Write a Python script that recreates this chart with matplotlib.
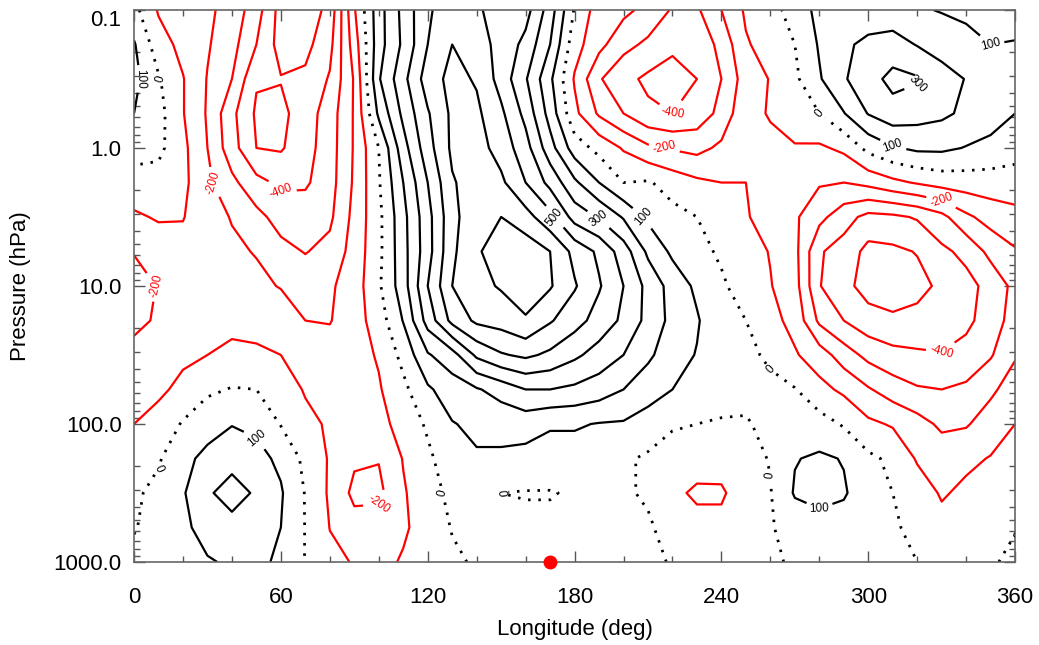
import numpy as np
import matplotlib.pyplot as plt

plt.rcParams['font.family'] = ['Liberation Sans', 'DejaVu Sans']

# longitude grid (deg) and pressure levels (hPa)
lons = [0, 10, 20, 30, 40, 50, 60, 70, 80, 90, 100, 110, 120, 130, 140, 150, 160, 170, 180,
        190, 200, 210, 220, 230, 240, 250, 260, 270, 280, 290, 300, 310, 320, 330, 340, 350, 360]
pres = [0.1, 0.178, 0.316, 0.562, 1.0, 1.78, 3.16, 5.62, 10.0, 17.8, 31.6, 56.2,
        100.0, 178.0, 316.0, 562.0, 1000.0]

# height anomaly (m), one list per pressure level
z_p0001 = [30, -110, -140, -180, -240, -355, -540, -560, -470, -110, 160, 330, 490, 540, 510, 470, 440, 250, -10, -150, -175, -230, -310, -315, -200, -85, -35, 40, 130, 150, 150, 140, 110, 95, 80, 60, 30]
z_p0002 = [110, -55, -130, -190, -265, -400, -540, -530, -430, -150, 160, 320, 500, 600, 540, 470, 370, 200, -60, -170, -270, -320, -380, -370, -270, -110, -60, 0, 110, 185, 220, 240, 195, 150, 130, 100, 110]
z_p0003 = [130, 10, -95, -205, -300, -490, -495, -480, -390, -190, 190, 370, 550, 630, 590, 460, 310, 120, -110, -290, -370, -420, -440, -400, -300, -150, -95, -20, 90, 190, 260, 330, 310, 250, 195, 170, 130]
z_p0006 = [100, 35, -95, -210, -375, -515, -525, -450, -350, -190, 120, 325, 490, 620, 620, 520, 370, 160, -75, -215, -300, -380, -400, -360, -270, -120, -95, -35, 0, 95, 205, 260, 240, 220, 180, 150, 100]
z_p001 = [40, 25, -75, -200, -360, -500, -510, -440, -345, -190, 0, 260, 460, 620, 640, 560, 440, 240, 50, -30, -110, -180, -210, -230, -180, -105, -115, -110, -115, -80, 30, 90, 120, 120, 95, 70, 40]
z_p002 = [-40, -40, -75, -180, -275, -370, -420, -415, -340, -185, -10, 200, 400, 590, 650, 620, 500, 370, 220, 100, 0, 10, -40, -80, -100, -100, -110, -150, -190, -200, -170, -125, -90, -60, -50, -45, -45]
z_p003 = [-115, -90, -95, -165, -205, -270, -340, -345, -320, -170, -25, 170, 365, 570, 670, 700, 640, 530, 360, 290, 190, 80, 30, 0, -70, -95, -125, -185, -270, -360, -430, -420, -390, -330, -220, -160, -130]
z_p006 = [-195, -155, -135, -160, -185, -205, -270, -305, -270, -160, -25, 165, 360, 580, 690, 740, 760, 700, 570, 480, 350, 180, 80, 20, -10, -60, -105, -170, -390, -440, -530, -520, -495, -420, -375, -270, -210]
z_p010 = [-240, -195, -165, -165, -170, -180, -205, -240, -215, -150, -15, 155, 400, 600, 670, 710, 750, 710, 610, 510, 400, 270, 160, 80, 10, -30, -95, -160, -395, -470, -540, -560, -530, -480, -430, -370, -270]
z_p018 = [-220, -190, -160, -150, -135, -130, -150, -200, -205, -145, -50, 105, 340, 530, 620, 640, 690, 610, 540, 460, 380, 270, 170, 110, 25, 0, -70, -130, -320, -400, -460, -480, -470, -450, -420, -360, -250]
z_p032 = [-175, -160, -115, -100, -70, -85, -100, -140, -160, -140, -90, 30, 190, 260, 420, 490, 520, 480, 420, 360, 300, 220, 140, 95, 70, 20, -15, -90, -150, -250, -330, -370, -385, -395, -370, -310, -210]
z_p056 = [-140, -115, -80, -15, 5, 0, -40, -110, -130, -135, -110, -25, 85, 150, 190, 240, 300, 300, 280, 250, 200, 140, 100, 50, 45, 15, 20, 5, -70, -120, -190, -250, -290, -300, -280, -220, -150]
z_p100 = [-100, -70, 10, 55, 95, 80, -5, -70, -115, -140, -130, -65, 15, 95, 120, 130, 140, 110, 110, 95, 90, 60, 10, 0, -10, -5, 15, 50, 40, -10, -80, -110, -160, -220, -210, -150, -100]
z_p178 = [-60, -10, 70, 130, 175, 130, 80, -25, -110, -185, -195, -95, -20, 60, 90, 85, 70, 60, 60, 55, 15, -15, -40, -60, -70, -30, 5, 95, 115, 95, 20, -20, -110, -140, -120, -95, -60]
z_p316 = [-15, 25, 90, 190, 230, 190, 110, -5, -115, -225, -225, -110, -40, 25, 30, 0, -5, -5, 10, 30, 10, -10, -80, -115, -110, -60, -5, 110, 125, 110, 45, 0, -50, -110, -80, -60, -30]
z_p562 = [-5, 30, 75, 145, 175, 150, 100, -3, -102, -160, -150, -115, -55, 5, 20, 20, 20, 20, 25, 25, 15, 10, -30, -70, -80, -40, -8, 40, 70, 60, 40, 10, -20, -70, -50, -30, -5]
z_p1000 = [20, 30, 55, 90, 115, 120, 85, -3, -80, -105, -130, -90, -60, -15, 10, 20, 25, 30, 30, 25, 20, 15, -5, -40, -50, -30, -12, 10, 40, 40, 30, 15, 0, -40, -30, -10, 20]

marker_lon = 170
marker_p = 1000.0

z = np.array([z_p0001, z_p0002, z_p0003, z_p0006, z_p001, z_p002, z_p003, z_p006, z_p010,
              z_p018, z_p032, z_p056, z_p100, z_p178, z_p316, z_p562, z_p1000], dtype=float)
logp = np.log10(pres)

fig = plt.figure(figsize=(10.39, 6.45), dpi=100)
ax = fig.add_axes([0.129, 0.1287, 0.848, 0.8558])

neg_levels = [-600, -500, -400, -300, -200, -100]
pos_levels = [100, 200, 300, 400, 500, 600, 700]

cs_neg = ax.contour(lons, logp, z, levels=neg_levels, colors='red', linewidths=1.6,
                    linestyles='solid')
cs_zero = ax.contour(lons, logp, z, levels=[0], colors='black', linewidths=2.0,
                     linestyles=[(0, (0.9, 2.8))])
cs_pos = ax.contour(lons, logp, z, levels=pos_levels, colors='black', linewidths=1.6,
                    linestyles='solid')

ax.clabel(cs_neg, levels=[-400, -200], fmt='%d', fontsize=8.5, inline=True, inline_spacing=4)
ax.clabel(cs_zero, fmt='%d', fontsize=8.5, inline=True, inline_spacing=4)
ax.clabel(cs_pos, levels=[100, 300, 500], fmt='%d', fontsize=8.5, inline=True, inline_spacing=4)

ax.plot(marker_lon, np.log10(marker_p), 'o', color='red', ms=9, clip_on=False, zorder=5)

ax.set_xlim(0, 360)
ax.set_ylim(3, -1)
ax.set_xticks([0, 60, 120, 180, 240, 300, 360])
ax.set_xticks(np.arange(0, 361, 20), minor=True)
ax.set_yticks([-1, 0, 1, 2, 3])
ax.set_yticklabels(['0.1', '1.0', '10.0', '100.0', '1000.0'])
ax.get_yticklabels()[0].set_va('top')
minor_y = [np.log10(m * 10.0 ** d) for d in range(-1, 3) for m in range(2, 10)]
ax.set_yticks(minor_y, minor=True)

ax.tick_params(axis='both', which='both', direction='in', top=True, right=True,
               color='#555555', labelsize=16)
ax.tick_params(axis='both', which='major', length=8, width=1)
ax.tick_params(axis='x', which='major', pad=18)
ax.tick_params(axis='y', which='major', pad=9)
ax.tick_params(axis='both', which='minor', length=4, width=1)
for s in ax.spines.values():
    s.set_color('#666666')
    s.set_linewidth(1.2)

ax.set_xlabel('Longitude (deg)', fontsize=16, labelpad=8)
ax.set_ylabel('Pressure (hPa)', fontsize=16, labelpad=16)

fig.savefig('out.png', dpi=100)
